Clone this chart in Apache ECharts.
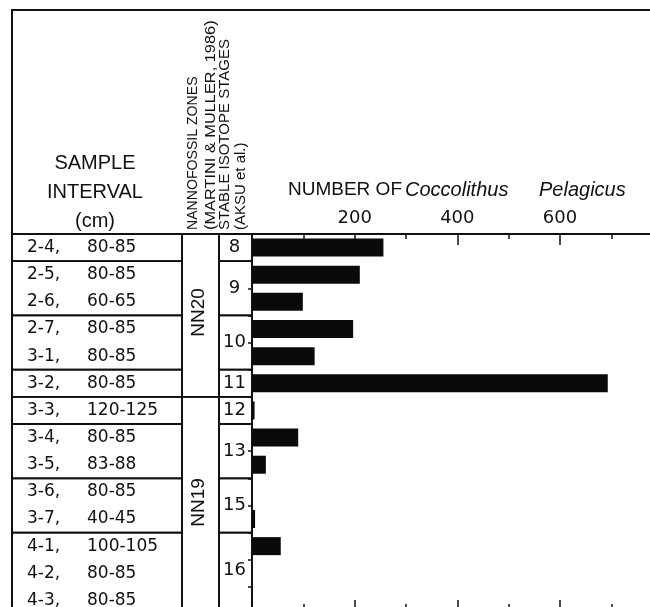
<!DOCTYPE html>
<html>
<head>
<meta charset="utf-8">
<script src="https://cdn.jsdelivr.net/npm/echarts@6/dist/echarts.min.js"></script>
<style>
  html, body { margin: 0; padding: 0; background: #fff; }
  #main { width: 650px; height: 607px; }
</style>
</head>
<body>
<div id="main"></div>
<script>
// sample intervals (core-section, cm)
var cores = ['2-4', '2-5', '2-6', '2-7', '3-1', '3-2', '3-3', '3-4', '3-5', '3-6', '3-7', '4-1', '4-2', '4-3'];
var intervals = ['80-85', '80-85', '60-65', '80-85', '80-85', '80-85', '120-125', '80-85', '83-88', '80-85', '40-45', '100-105', '80-85', '80-85'];
// number of Coccolithus pelagicus per sample
var counts = [256, 210, 99, 197, 122, 693, 5, 90, 27, 0, 6, 56, 0, 0];
// stable isotope stages: label + [first row, end row)
var stageNames = ['8', '9', '10', '11', '12', '13', '15', '16'];
var stageRows = [[0, 1], [1, 3], [3, 5], [5, 6], [6, 7], [7, 9], [9, 11], [11, 14]];
// nannofossil zones
var zoneNames = ['NN20', 'NN19'];
var zoneRows = [[0, 6], [6, 14]];
// labelled ticks on the count axis
var countLabels = [200, 400, 600];

var INK = '#111';
var chart = echarts.init(document.getElementById('main'));

function hiddenAxis(gridIndex, extra) {
  var a = {
    gridIndex: gridIndex, type: 'value', show: false,
    axisLine: { show: false }, axisTick: { show: false },
    axisLabel: { show: false }, splitLine: { show: false }
  };
  for (var k in extra) a[k] = extra[k];
  return a;
}

// rectangle cell spanning rows [from, to) in a table column
function cellRect(api) {
  var p0 = api.coord([0, api.value(0)]);
  var p1 = api.coord([1, api.value(1)]);
  return {
    x: p0[0], y: p0[1], width: p1[0] - p0[0], height: p1[1] - p0[1]
  };
}

function cellStyle() {
  return { fill: 'none', stroke: INK, lineWidth: 1.8 };
}

function countAxis(pos, majorLen, minorLen, labels) {
  return {
    gridIndex: 0, type: 'value', position: pos,
    min: 0, max: 785, interval: 200,
    axisLine: { show: true, onZero: false, lineStyle: { color: INK, width: 1.8 } },
    axisTick: { show: true, inside: true, length: majorLen, lineStyle: { color: INK, width: 1.5 } },
    minorTick: { show: true, splitNumber: 2, length: minorLen, lineStyle: { color: INK, width: 1.5 } },
    axisLabel: labels ? {
      margin: 7, color: INK, fontFamily: 'DejaVu Sans', fontSize: 18,
      formatter: function (v) { return countLabels.indexOf(v) >= 0 ? String(v) : ''; }
    } : { show: false },
    splitLine: { show: false }
  };
}

var gridTop = 234, gridHeight = 380;
var gridCommon = { top: gridTop, height: gridHeight, outerBoundsMode: 'none', containLabel: false };
function mkGrid(o) {
  for (var k in gridCommon) o[k] = gridCommon[k];
  return o;
}

// rotated column headings (read bottom to top)
function vText(text, x, stretch) {
  return {
    type: 'text', x: x, y: 230, rotation: Math.PI / 2, scaleX: stretch || 1,
    style: {
      text: text, fontFamily: 'Liberation Sans', fontSize: 15, fill: INK,
      align: 'left', verticalAlign: 'middle'
    }
  };
}

var option = {
  animation: false,
  backgroundColor: '#fff',
  title: {
    text: '{n|NUMBER OF}{c|Coccolithus}{p|Pelagicus}',
    left: 288,
    top: 180,
    padding: 0,
    textStyle: {
      fontWeight: 'normal',
      rich: {
        n: { fontFamily: 'Liberation Sans', fontWeight: 'normal', fontSize: 19, color: INK, width: 117 },
        c: { fontFamily: 'Liberation Sans', fontWeight: 'normal', fontStyle: 'italic', fontSize: 20, color: INK, width: 134 },
        p: { fontFamily: 'Liberation Sans', fontWeight: 'normal', fontStyle: 'italic', fontSize: 20, color: INK }
      }
    }
  },
  grid: [
    mkGrid({ left: 252, right: -5 }),   // bars
    mkGrid({ left: 12, width: 170 }),   // sample column
    mkGrid({ left: 182, width: 37 }),   // zone column
    mkGrid({ left: 219, width: 33 })    // stage column
  ],
  xAxis: [
    countAxis('top', 11, 5, true),
    countAxis('bottom', 14, 10, false),
    hiddenAxis(1, { min: 0, max: 1 }),
    hiddenAxis(2, { min: 0, max: 1 }),
    hiddenAxis(3, { min: 0, max: 1 })
  ],
  yAxis: [
    {
      gridIndex: 0, type: 'category', inverse: true, data: cores,
      axisLine: { show: true, lineStyle: { color: INK, width: 1.8 } },
      axisTick: { show: true, length: 4, lineStyle: { color: INK, width: 1.5 } },
      axisLabel: { show: false }, splitLine: { show: false }
    },
    {
      gridIndex: 1, type: 'category', inverse: true, data: cores,
      axisLine: { show: false }, axisTick: { show: false }, splitLine: { show: false },
      axisLabel: {
        inside: true, margin: 15,
        formatter: function (v, i) { return '{a|' + cores[i] + ',}{b|' + intervals[i] + '}'; },
        rich: {
          a: { fontFamily: 'DejaVu Sans', fontSize: 17, color: INK, width: 60 },
          b: { fontFamily: 'DejaVu Sans', fontSize: 17, color: INK }
        }
      }
    },
    hiddenAxis(1, { min: 0, max: 14, inverse: true }),
    hiddenAxis(2, { min: 0, max: 14, inverse: true }),
    hiddenAxis(3, { min: 0, max: 14, inverse: true })
  ],
  series: [
    {
      name: 'Coccolithus pelagicus',
      type: 'bar',
      xAxisIndex: 0, yAxisIndex: 0,
      data: counts,
      barWidth: 18,
      itemStyle: { color: '#0a0a0a' }
    },
    {
      // sample interval cells
      type: 'custom',
      xAxisIndex: 2, yAxisIndex: 2,
      clip: false,
      data: stageRows,
      renderItem: function (params, api) {
        return { type: 'rect', shape: cellRect(api), style: cellStyle() };
      }
    },
    {
      // nannofossil zone cells
      type: 'custom',
      xAxisIndex: 3, yAxisIndex: 3,
      clip: false,
      data: zoneRows,
      renderItem: function (params, api) {
        var r = cellRect(api);
        return {
          type: 'group',
          children: [
            { type: 'rect', shape: r, style: cellStyle() },
            {
              type: 'text',
              x: r.x + r.width / 2 - 2, y: r.y + r.height / 2 - 3,
              rotation: Math.PI / 2,
              style: {
                text: zoneNames[params.dataIndex],
                fontFamily: 'Liberation Sans', fontSize: 19, fill: INK,
                align: 'center', verticalAlign: 'middle'
              }
            }
          ]
        };
      }
    },
    {
      // isotope stage cells
      type: 'custom',
      xAxisIndex: 4, yAxisIndex: 4,
      clip: false,
      data: stageRows,
      renderItem: function (params, api) {
        var r = cellRect(api);
        return {
          type: 'group',
          children: [
            { type: 'rect', shape: r, style: cellStyle() },
            {
              type: 'text',
              x: r.x + r.width / 2 - 1, y: Math.min(r.y + r.height / 2, 570),
              style: {
                text: stageNames[params.dataIndex],
                fontFamily: 'DejaVu Sans', fontSize: 18, fill: INK,
                align: 'center', verticalAlign: 'middle'
              }
            }
          ]
        };
      }
    }
  ],
  graphic: [
    {
      type: 'rect', silent: true,
      shape: { x: 12, y: 10, width: 700, height: 700 },
      style: { fill: 'none', stroke: INK, lineWidth: 2 }
    },
    {
      type: 'text', x: 95, y: 192,
      style: {
        text: 'SAMPLE\nINTERVAL\n(cm)', fontFamily: 'Liberation Sans', fontSize: 20,
        lineHeight: 29, fill: INK, align: 'center', verticalAlign: 'middle'
      }
    },
    vText('NANNOFOSSIL ZONES', 193, 0.94),
    vText('(MARTINI & MULLER, 1986)', 211, 1.09),
    vText('STABLE ISOTOPE STAGES', 225),
    vText('(AKSU et al.)', 241)
  ]
};

chart.setOption(option);
</script>
</body>
</html>
